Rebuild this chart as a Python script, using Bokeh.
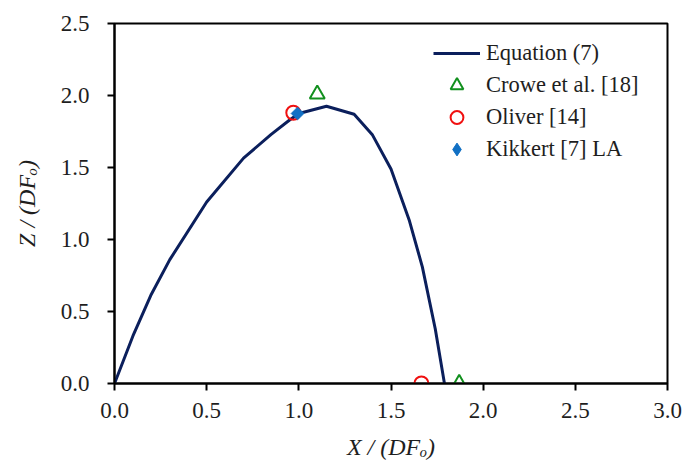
import numpy as np
from bokeh.plotting import figure
from bokeh.models import Range1d, FixedTicker, Legend, LegendItem, CustomJSTickFormatter
from bokeh.embed import file_html
from bokeh.resources import INLINE

# Equation (7) curve
eq_x = [0.0, 0.1, 0.2, 0.3, 0.5, 0.7, 0.85, 0.95, 1.0, 1.15, 1.3, 1.4, 1.5, 1.6, 1.67, 1.74, 1.79]
eq_z = [0.0, 0.33, 0.62, 0.86, 1.26, 1.565, 1.73, 1.83, 1.875, 1.925, 1.87, 1.725, 1.49, 1.13, 0.81, 0.38, 0.0]

# Experimental data
crowe_x = [1.10, 1.87]
crowe_z = [2.01, 0.0]
oliver_x = [0.97, 1.665]
oliver_z = [1.88, 0.0]
kikkert_x = [0.993]
kikkert_z = [1.875]

x_ticks = [0.0, 0.5, 1.0, 1.5, 2.0, 2.5, 3.0]
y_ticks = [0.0, 0.5, 1.0, 1.5, 2.0, 2.5]

FONT = "Liberation Serif"
TXT = "#1e1e1e"

p = figure(width=687, height=470, output_backend="svg", toolbar_location=None,
           x_range=Range1d(0, 3.0), y_range=Range1d(0, 2.5),
           min_border_left=114, min_border_right=20, min_border_top=23, min_border_bottom=87)
p.background_fill_color = "white"
p.border_fill_color = "white"
p.outline_line_color = "black"
p.outline_line_width = 2
p.grid.visible = False

for ax, ticks in ((p.xaxis[0], x_ticks), (p.yaxis[0], y_ticks)):
    ax.ticker = FixedTicker(ticks=ticks)
    ax.formatter = CustomJSTickFormatter(code="return tick.toFixed(1);")
    ax.minor_tick_line_color = None
    ax.major_tick_in = 0
    ax.major_tick_out = 7
    ax.major_tick_line_width = 2
    ax.axis_line_width = 2
    ax.axis_line_color = "black"
    ax.major_tick_line_color = "black"
    ax.major_label_text_font = FONT
    ax.major_label_text_font_size = "23px"
    ax.major_label_text_color = TXT
    ax.axis_label_text_font = FONT
    ax.axis_label_text_font_size = "24px"
    ax.axis_label_text_font_style = "italic"
    ax.axis_label_text_color = TXT

p.xaxis[0].major_label_standoff = 12
p.yaxis[0].major_label_standoff = 18
p.xaxis[0].axis_label = "X / (DF\u2092)"
p.yaxis[0].axis_label = "Z / (DF\u2092)"
p.xaxis[0].axis_label_standoff = 13
p.yaxis[0].axis_label_standoff = 18

r_eq = p.line(eq_x, eq_z, line_color="#0b1f5c", line_width=3)
r_crowe = p.scatter(crowe_x, crowe_z, marker="triangle", size=15, fill_color=None,
                    line_color="#12901e", line_width=2)
r_oliver = p.scatter(oliver_x, oliver_z, marker="circle", size=14, fill_color=None,
                     line_color="#f01010", line_width=2)
r_kik = p.scatter(kikkert_x, kikkert_z, marker="square", size=9, angle=np.pi / 4,
                  fill_color="#1170c4", line_color="#1170c4", line_width=1)
# legend swatch for the diamond (a NaN point, so nothing is drawn in the plot)
r_kik_leg = p.scatter([float("nan")], [float("nan")], marker="diamond", size=14,
                      fill_color="#1170c4", line_color="#1170c4", line_width=1)

legend = Legend(items=[
    LegendItem(label="Equation (7)", renderers=[r_eq]),
    LegendItem(label="Crowe et al. [18]", renderers=[r_crowe]),
    LegendItem(label="Oliver [14]", renderers=[r_oliver]),
    LegendItem(label="Kikkert [7] LA", renderers=[r_kik_leg]),
], location=(319, 218))
legend.border_line_color = None
legend.background_fill_alpha = 0
legend.padding = 5
legend.margin = 0
legend.glyph_width = 47
legend.glyph_height = 32
legend.label_height = 22
legend.spacing = 0
legend.label_standoff = 6
legend.label_text_font = FONT
legend.label_text_font_size = "22.5px"
legend.label_text_color = TXT
p.add_layout(legend, "center")

open("out.html", "w").write(file_html(p, INLINE))
